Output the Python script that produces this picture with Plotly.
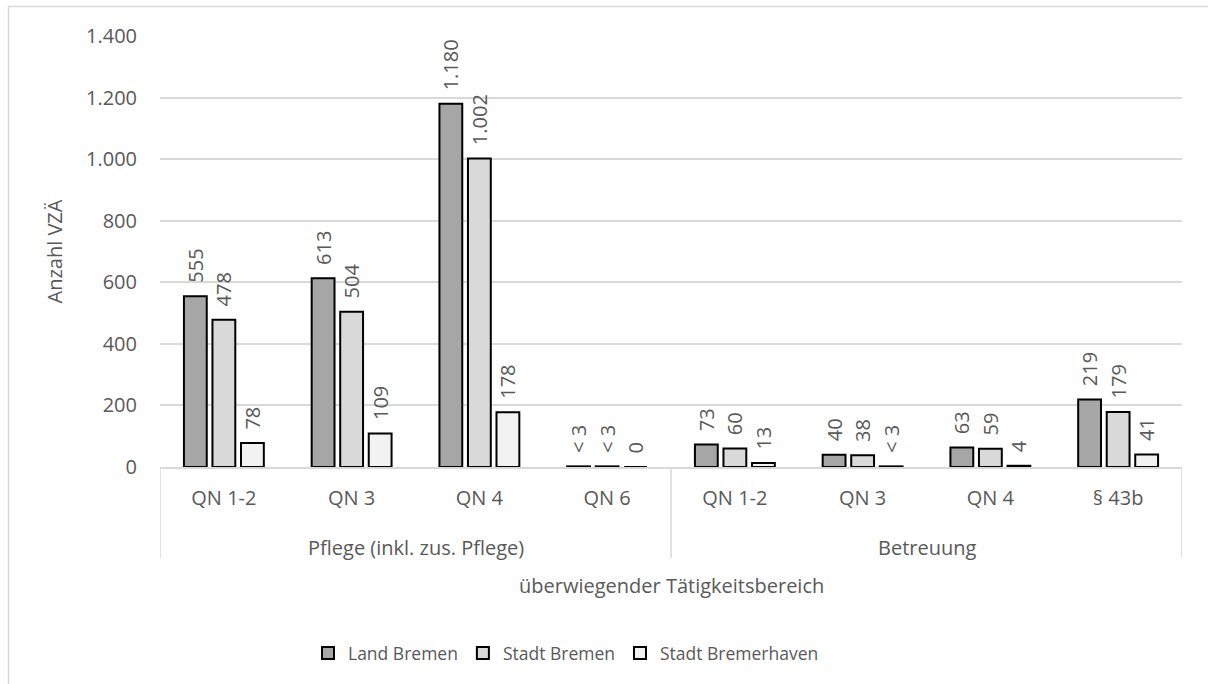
import plotly.graph_objects as go

groups = ["Pflege (inkl. zus. Pflege)", "Betreuung"]
group_sizes = [4, 4]
categories = ["QN 1-2", "QN 3", "QN 4", "QN 6", "QN 1-2", "QN 3", "QN 4", "§ 43b"]

land_bremen = [555, 613, 1180, 2, 73, 40, 63, 219]
land_bremen_labels = ["555", "613", "1.180", "< 3", "73", "40", "63", "219"]
stadt_bremen = [478, 504, 1002, 2, 60, 38, 59, 179]
stadt_bremen_labels = ["478", "504", "1.002", "< 3", "60", "38", "59", "179"]
stadt_bremerhaven = [78, 109, 178, 0, 13, 2, 4, 41]
stadt_bremerhaven_labels = ["78", "109", "178", "0", "13", "< 3", "4", "41"]

series = [
    ("Land Bremen", land_bremen, land_bremen_labels, "#a6a6a6"),
    ("Stadt Bremen", stadt_bremen, stadt_bremen_labels, "#d9d9d9"),
    ("Stadt Bremerhaven", stadt_bremerhaven, stadt_bremerhaven_labels, "#f2f2f2"),
]

FONT = "Open Sans"
TXT = "#595959"
GRID = "#d9d9d9"

positions = list(range(len(categories)))

# plot area geometry (pixels) for paper-relative extras
PL, PR, PT, PB = 160, 1182, 36, 467
PW, PH = PR - PL, PB - PT

fig = go.Figure()
for name, vals, labels, color in series:
    fig.add_trace(go.Bar(
        name=name,
        x=positions,
        y=vals,
        text=["\u00a0\u00a0" + t for t in labels],
        textposition="outside",
        textangle=-90,
        constraintext="none",
        cliponaxis=False,
        textfont=dict(family=FONT, size=20, color=TXT),
        marker=dict(color=color, line=dict(color="#000000", width=2)),
    ))

annotations = [dict(text="überwiegender Tätigkeitsbereich", xref="paper", yref="paper",
                    x=0.5, y=(PB - 585) / PH, showarrow=False, xanchor="center", yanchor="middle",
                    font=dict(family=FONT, size=20, color=TXT))]
shapes = [dict(type="rect", xref="paper", yref="paper",
               x0=(8.5 - PL) / PW, x1=(1240 - PL) / PW,
               y0=(PB - 720) / PH, y1=(PB - 6.5) / PH,
               line=dict(color=GRID, width=1.5), layer="below")]

start = 0
bounds = [-0.5]
for g, n in zip(groups, group_sizes):
    annotations.append(dict(text=g, xref="x", yref="paper", x=start + (n - 1) / 2,
                            y=(PB - 547) / PH, showarrow=False, xanchor="center",
                            yanchor="middle", font=dict(family=FONT, size=20, color=TXT)))
    start += n
    bounds.append(start - 0.5)
for b in bounds:
    shapes.append(dict(type="line", xref="x", yref="paper", x0=b, x1=b, y0=0,
                       y1=(PB - 558) / PH, line=dict(color=GRID, width=1.5)))

fig.update_layout(
    width=1208, height=684,
    margin=dict(l=PL, r=1208 - PR, t=PT, b=684 - PB, autoexpand=False),
    paper_bgcolor="white", plot_bgcolor="white",
    separators=",.",
    barmode="group",
    bargap=0.33,
    bargroupgap=0.2,
    font=dict(family=FONT, size=20, color=TXT),
    showlegend=True,
    legend=dict(orientation="h", x=(566 - PL) / PW, xanchor="center", y=(PB - 653) / PH,
                yanchor="middle", font=dict(family=FONT, size=17.5, color=TXT),
                traceorder="normal"),
    annotations=annotations,
    shapes=shapes,
)

fig.update_xaxes(
    range=[-0.5, len(categories) - 0.5],
    tickvals=positions, ticktext=categories,
    showline=True, linecolor=GRID, linewidth=1.5,
    showgrid=False, zeroline=False, ticks="",
    ticklabelstandoff=12,
    tickfont=dict(family=FONT, size=20, color=TXT),
)
fig.update_yaxes(
    range=[0, 1400], dtick=200, tickformat=",d",
    showgrid=True, gridcolor=GRID, gridwidth=1.5,
    zeroline=False, showline=False,
    ticklabelstandoff=22,
    tickfont=dict(family=FONT, size=20, color=TXT),
    title=dict(text="Anzahl VZÄ", font=dict(family=FONT, size=20, color=TXT), standoff=18),
)

fig.write_html("out.html", config={"displayModeBar": False},
               post_script="document.body.style.margin='0';")
